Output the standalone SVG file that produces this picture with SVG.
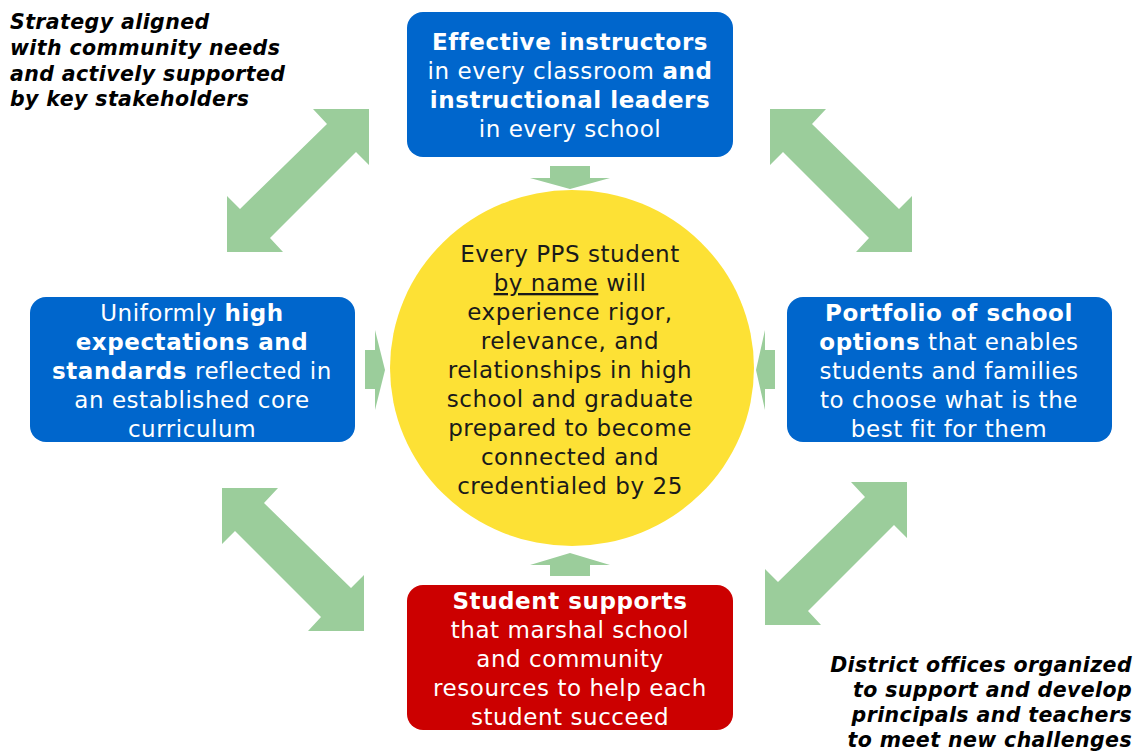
<svg xmlns="http://www.w3.org/2000/svg" width="1138" height="751" viewBox="0 0 1138 751">
<style>
.box{fill:#0066CC;}
.red{fill:#CC0000;}
.arr{fill:#9BCD9B;}
.t{font-family:"DejaVu Sans",Verdana,sans-serif;font-size:23px;letter-spacing:0.55px;text-anchor:middle;fill:#fff;}
.c{font-family:"DejaVu Sans",Verdana,sans-serif;font-size:23px;letter-spacing:0.55px;text-anchor:middle;fill:#1a1a1a;}
.b{font-weight:bold;}
.note{font-family:"DejaVu Sans",Verdana,sans-serif;font-size:20.5px;letter-spacing:0.4px;font-weight:bold;font-style:italic;fill:#000;}
</style>
<rect width="1138" height="751" fill="#fff"/>
<g id="connectors">
<polygon class="arr" points="369,109 369,165 356,152 270,238 283,252 227,252 227,196 240,209 327,124 313,109"/>
<polygon class="arr" points="770,109 770,165 783,152 869,238 856,252 912,252 912,196 899,209 812,124 826,109"/>
<polygon class="arr" points="222,488 222,544 235,531 321,617 308,631 364,631 364,575 351,588 264,503 278,488"/>
<polygon class="arr" points="907,482 907,538 894,525 808,611 821,625 765,625 765,569 778,582 865,497 851,482"/>
<polygon class="arr" points="550,166 590,166 590,178 610,178 570,189 530,178 550,178"/>
<polygon class="arr" points="550,576 590,576 590,565 610,565 570,553 530,565 550,565"/>
<polygon class="arr" points="365,350 375,350 375,330 385,370 375,410 375,389 365,389"/>
<polygon class="arr" points="775,350 765,350 765,330 756,370 765,410 765,389 775,389"/>
</g>
<g id="center">
<ellipse cx="572" cy="368" rx="182" ry="178" fill="#FDE135"/>
<text class="c" x="570" y="262">Every PPS student</text>
<text class="c" x="570" y="291"><tspan text-decoration="underline">by name</tspan> will</text>
<text class="c" x="570" y="320">experience rigor,</text>
<text class="c" x="570" y="349">relevance, and</text>
<text class="c" x="570" y="378">relationships in high</text>
<text class="c" x="570" y="407">school and graduate</text>
<text class="c" x="570" y="436">prepared to become</text>
<text class="c" x="570" y="465">connected and</text>
<text class="c" x="570" y="494">credentialed by 25</text>
</g>
<g id="top">
<rect class="box" x="407" y="12" width="326" height="145" rx="16"/>
<text class="t b" x="570" y="50">Effective instructors</text>
<text class="t" x="570" y="79">in every classroom <tspan class="b">and</tspan></text>
<text class="t b" x="570" y="108">instructional leaders</text>
<text class="t" x="570" y="137">in every school</text>
</g>
<g id="left">
<rect class="box" x="30" y="297" width="325" height="145" rx="16"/>
<text class="t" x="192" y="321">Uniformly <tspan class="b">high</tspan></text>
<text class="t b" x="192" y="350">expectations and</text>
<text class="t" x="192" y="379"><tspan class="b">standards</tspan> reflected in</text>
<text class="t" x="192" y="408">an established core</text>
<text class="t" x="192" y="437">curriculum</text>
</g>
<g id="right">
<rect class="box" x="787" y="297" width="325" height="145" rx="16"/>
<text class="t b" x="949" y="321">Portfolio of school</text>
<text class="t" x="949" y="350"><tspan class="b">options</tspan> that enables</text>
<text class="t" x="949" y="379">students and families</text>
<text class="t" x="949" y="408">to choose what is the</text>
<text class="t" x="949" y="437">best fit for them</text>
</g>
<g id="bottom">
<rect class="red" x="407" y="585" width="326" height="145" rx="16"/>
<text class="t b" x="570" y="609">Student supports</text>
<text class="t" x="570" y="638">that marshal school</text>
<text class="t" x="570" y="667">and community</text>
<text class="t" x="570" y="696">resources to help each</text>
<text class="t" x="570" y="725">student succeed</text>
</g>
<g id="note-top-left">
<text class="note" x="10" y="29">Strategy aligned</text>
<text class="note" x="10" y="55">with community needs</text>
<text class="note" x="10" y="81">and actively supported</text>
<text class="note" x="10" y="106">by key stakeholders</text>
</g>
<g id="note-bottom-right">
<text class="note" x="1132" y="672" text-anchor="end">District offices organized</text>
<text class="note" x="1132" y="697" text-anchor="end">to support and develop</text>
<text class="note" x="1132" y="722" text-anchor="end">principals and teachers</text>
<text class="note" x="1132" y="747" text-anchor="end">to meet new challenges</text>
</g>
</svg>
